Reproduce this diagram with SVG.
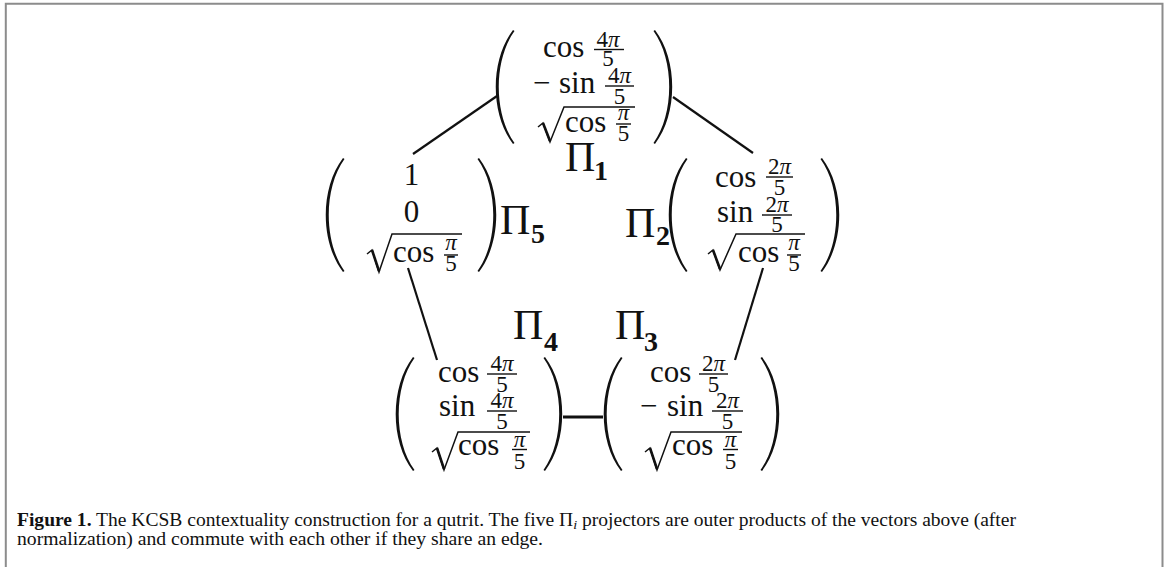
<svg xmlns="http://www.w3.org/2000/svg" xmlns:xlink="http://www.w3.org/1999/xlink" width="1168" height="567" viewBox="0 0 1168 567">
<style>
  .m { font-family: "Liberation Serif", "DejaVu Serif", serif; font-size: 31px; fill: #111; }
  .f { font-family: "Liberation Serif", "DejaVu Serif", serif; font-size: 23px; fill: #111; text-anchor: middle; }
  .c { text-anchor: middle; }
  .pi { font-style: italic; }
  .bar { stroke: #111; stroke-width: 1.4; fill: none; }
  .rad { stroke: #111; stroke-width: 1.5; fill: none; stroke-linejoin: miter; }
  .radt { stroke: #111; stroke-width: 2.6; fill: none; }
  .P { font-family: "Liberation Serif", "DejaVu Serif", serif; font-size: 42px; fill: #111; }
  .sub { font-family: "Liberation Serif", "DejaVu Serif", serif; font-size: 28px; font-weight: bold; fill: #111; }
  .edge { stroke: #111; stroke-width: 2.2; fill: none; }
  .cap { font-family: "Liberation Serif", "Times New Roman", serif; font-size: 18px; fill: #111; }
  .frame { stroke: #8c8c8c; stroke-width: 2; fill: none; }
</style>
<defs>
  <path id="lp" d="M18,0 C -5,30 -5,84 18,114 L 19.5,113 C -1.5,84 -1.5,30 19.5,1 Z" fill="#111"/>
</defs>

<rect width="1168" height="567" fill="#fff"/>
<path class="frame" d="M5.8,567 V3.7 H1162.5 V567"/>

<g id="connectors">
  <line class="edge" x1="497" y1="96" x2="413" y2="154"/>
  <line class="edge" x1="673" y1="97" x2="753" y2="153"/>
  <line class="edge" x1="408" y1="268" x2="437" y2="360"/>
  <line class="edge" x1="763" y1="268" x2="735" y2="360"/>
  <line class="edge" x1="563" y1="417" x2="603" y2="417" style="stroke-width:3"/>
</g>

<!-- Pi_1 vector (top) -->
<g id="node-pi1">
  <use xlink:href="#lp" href="#lp" transform="translate(495,30)"/>
  <use xlink:href="#lp" href="#lp" transform="translate(673,30) scale(-1,1)"/>
  <text class="m" x="543" y="57">cos</text>
  <text class="f" x="608" y="47">4<tspan class="pi">π</tspan></text>
  <path class="bar" d="M594,49.5 H624"/>
  <text class="f" x="608" y="66">5</text>
  <text class="m" x="533" y="93">−</text>
  <text class="m" x="559" y="93">sin</text>
  <text class="f" x="619.5" y="83">4<tspan class="pi">π</tspan></text>
  <path class="bar" d="M605,86 H634"/>
  <text class="f" x="619.5" y="104">5</text>
  <path class="rad" d="M538,127 L543,123 L550,142 L564,107 H635"/>
  <path class="radt" d="M543,123 L550,141"/>
  <text class="m" x="565" y="132">cos</text>
  <text class="f pi" x="623.5" y="120">π</text>
  <path class="bar" d="M616,124 H631"/>
  <text class="f" x="623.5" y="141">5</text>
  <text class="P" x="565" y="171">Π</text>
  <text class="sub" x="594" y="180">1</text>
</g>

<!-- Pi_5 vector (left) -->
<g id="node-pi5">
  <use xlink:href="#lp" href="#lp" transform="translate(325,158)"/>
  <use xlink:href="#lp" href="#lp" transform="translate(497,158) scale(-1,1)"/>
  <text class="m c" x="411.5" y="185">1</text>
  <text class="m c" x="411.5" y="222">0</text>
  <path class="rad" d="M367,254 L372,250 L379,272 L392,234 H462"/>
  <path class="radt" d="M372,250 L379,271"/>
  <text class="m" x="393" y="262">cos</text>
  <text class="f pi" x="451" y="250">π</text>
  <path class="bar" d="M444,255 H458"/>
  <text class="f" x="451" y="271">5</text>
  <text class="P" x="500" y="234">Π</text>
  <text class="sub" x="531" y="243">5</text>
</g>

<!-- Pi_2 vector (right) -->
<g id="node-pi2">
  <use xlink:href="#lp" href="#lp" transform="translate(668,158)"/>
  <use xlink:href="#lp" href="#lp" transform="translate(840,158) scale(-1,1)"/>
  <text class="m" x="715" y="187">cos</text>
  <text class="f" x="779.5" y="174">2<tspan class="pi">π</tspan></text>
  <path class="bar" d="M766,177 H793"/>
  <text class="f" x="779.5" y="195">5</text>
  <text class="m" x="717" y="222">sin</text>
  <text class="f" x="777" y="212">2<tspan class="pi">π</tspan></text>
  <path class="bar" d="M762,215 H792"/>
  <text class="f" x="777" y="232">5</text>
  <path class="rad" d="M708,254 L713,250 L720,270 L736,234 H805"/>
  <path class="radt" d="M713,250 L720,269"/>
  <text class="m" x="738" y="262">cos</text>
  <text class="f pi" x="794" y="250">π</text>
  <path class="bar" d="M787,255 H801"/>
  <text class="f" x="794" y="271">5</text>
  <text class="P" x="625" y="237">Π</text>
  <text class="sub" x="656" y="245">2</text>
</g>

<!-- Pi_4 vector (bottom left) -->
<g id="node-pi4">
  <use xlink:href="#lp" href="#lp" transform="translate(395,357)"/>
  <use xlink:href="#lp" href="#lp" transform="translate(563,357) scale(-1,1)"/>
  <text class="m" x="438" y="382">cos</text>
  <text class="f" x="502" y="371">4<tspan class="pi">π</tspan></text>
  <path class="bar" d="M487,374 H517"/>
  <text class="f" x="502" y="392">5</text>
  <text class="m" x="439" y="416">sin</text>
  <text class="f" x="502" y="408">4<tspan class="pi">π</tspan></text>
  <path class="bar" d="M487,411 H517"/>
  <text class="f" x="502" y="429">5</text>
  <path class="rad" d="M432,452 L437,448 L444,470 L458,432 H530"/>
  <path class="radt" d="M437,448 L444,469"/>
  <text class="m" x="458" y="455">cos</text>
  <text class="f pi" x="519.5" y="447">π</text>
  <path class="bar" d="M512,449.5 H527"/>
  <text class="f" x="519.5" y="469">5</text>
  <text class="P" x="513" y="339">Π</text>
  <text class="sub" x="544" y="351">4</text>
</g>

<!-- Pi_3 vector (bottom right) -->
<g id="node-pi3">
  <use xlink:href="#lp" href="#lp" transform="translate(603,357)"/>
  <use xlink:href="#lp" href="#lp" transform="translate(780,357) scale(-1,1)"/>
  <text class="m" x="650" y="382">cos</text>
  <text class="f" x="713.5" y="371">2<tspan class="pi">π</tspan></text>
  <path class="bar" d="M699,374 H728"/>
  <text class="f" x="713.5" y="392">5</text>
  <text class="m" x="640" y="416">−</text>
  <text class="m" x="667" y="416">sin</text>
  <text class="f" x="727.5" y="408">2<tspan class="pi">π</tspan></text>
  <path class="bar" d="M712,411 H743"/>
  <text class="f" x="727.5" y="429">5</text>
  <path class="rad" d="M645,452 L650,448 L657,470 L671,432 H742"/>
  <path class="radt" d="M650,448 L657,469"/>
  <text class="m" x="672" y="455">cos</text>
  <text class="f pi" x="730.5" y="447">π</text>
  <path class="bar" d="M723,449.5 H738"/>
  <text class="f" x="730.5" y="469">5</text>
  <text class="P" x="615" y="339">Π</text>
  <text class="sub" x="644" y="351">3</text>
</g>

<g id="caption">
  <text class="cap" x="17" y="526" textLength="999" lengthAdjust="spacingAndGlyphs"><tspan font-weight="bold">Figure 1.</tspan> The KCSB contextuality construction for a qutrit. The five Π<tspan font-style="italic" font-size="13" dy="3">i</tspan><tspan dy="-3"> projectors are outer products of the vectors above (after</tspan></text>
  <text class="cap" x="17" y="545" textLength="526" lengthAdjust="spacingAndGlyphs">normalization) and commute with each other if they share an edge.</text>
</g>
</svg>
